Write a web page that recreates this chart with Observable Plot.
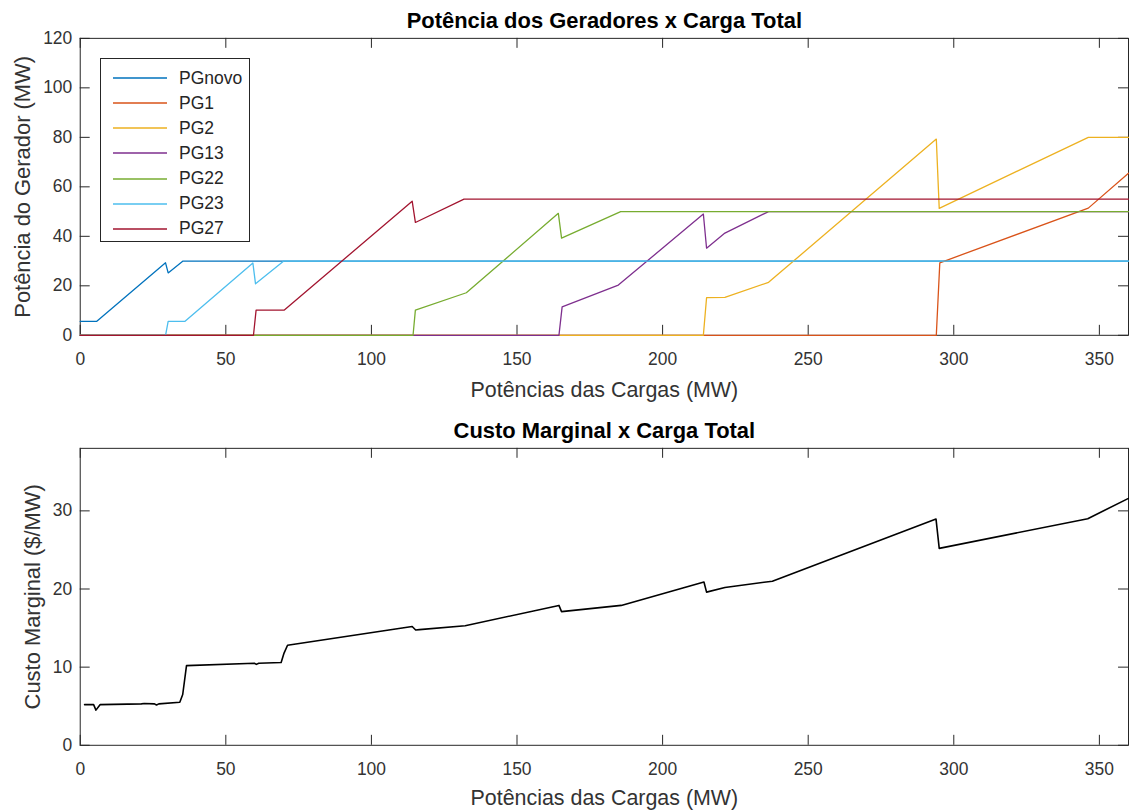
<!DOCTYPE html>
<html>
<head>
<meta charset="utf-8">
<script src="https://cdn.jsdelivr.net/npm/d3@7"></script>
<script src="https://cdn.jsdelivr.net/npm/@observablehq/plot@0.6"></script>
<style>
  html, body { margin: 0; padding: 0; background: #fff; overflow: hidden; }
  #wrap { position: relative; width: 1129px; height: 811px; overflow: hidden; font-family: "Liberation Sans", Arial, sans-serif; }
  #chartTop, #chartBottom { position: absolute; left: 0; }
  #chartTop { top: 0; }
  #chartBottom { top: 405px; }
  #legend { position: absolute; left: 100px; top: 58px; width: 150px; height: 184px; border: 1px solid #262626; background: #fff; box-sizing: border-box; }
  .row { position: absolute; left: 0; height: 24px; display: flex; align-items: center; font-size: 17.5px; color: #262626; }
  .row svg { margin-left: 12px; margin-right: 12px; }
</style>
</head>
<body>
<div id="wrap">
  <div id="chartTop"></div>
  <div id="chartBottom"></div>
  <div id="legend"></div>
</div>
<script>
// ---- Data ----
const seriesNames = ["PGnovo", "PG1", "PG2", "PG13", "PG22", "PG23", "PG27"];
const seriesColors = ["#0072BD", "#D95319", "#EDB120", "#7E2F8E", "#77AC30", "#4DBEEE", "#A2142F"];

// [load (MW), generator power (MW)]
const PGnovo = [[0,5.6],[5.6,5.6],[29.3,29.3],[30.2,25.2],[35.3,30],[360,30]];
const PG1 = [[0,0],[294,0],[295.2,29.3],[346.2,51.4],[360,65.5]];
const PG2 = [[0,0],[214,0],[215.1,15.2],[221.4,15.3],[236.4,21.4],[294,79.3],[295,51.3],[346.2,80],[360,80]];
const PG13 = [[0,0],[164.4,0],[165.5,11.5],[184.8,20.3],[214,49],[215.1,35.2],[221.4,41.3],[236.4,50],[360,50]];
const PG22 = [[0,0],[114.3,0],[115.1,10.2],[132.6,17.2],[164.2,49.3],[165.3,39.3],[185.6,50],[360,50]];
const PG23 = [[0,0],[29.3,0],[30.2,5.6],[35.9,5.6],[59.3,29.2],[60.2,20.8],[69.9,30],[360,30]];
const PG27 = [[0,0],[59.5,0],[60.4,10.2],[70.1,10.2],[114,54.2],[115.1,45.6],[131.8,55],[360,55]];

// [load (MW), marginal cost ($/MW)]
const custoMarginal = [[1.5,5.2],[4.6,5.2],[5.4,4.5],[6.8,5.2],[21,5.3],[22,5.35],[25.5,5.3],[26.2,5.15],[27,5.3],[34.2,5.5],[35.2,6.5],[36.5,10.2],[59.8,10.5],[60.5,10.35],[61.3,10.5],[69,10.6],[70,11.8],[71.2,12.8],[114,15.2],[115.2,14.75],[116.5,14.8],[132.2,15.3],[164.4,17.9],[165.3,17.1],[185.8,17.9],[214.2,20.9],[215.1,19.6],[221.4,20.2],[237.7,21.0],[293.9,28.95],[295,25.2],[346,29.0],[360,31.6]];

const xTicks = [0, 50, 100, 150, 200, 250, 300, 350];
const yTicksTop = [0, 20, 40, 60, 80, 100, 120];
const yTicksBottom = [0, 10, 20, 30];

const titleTop = "Potência dos Geradores x Carga Total";
const titleBottom = "Custo Marginal x Carga Total";
const xLabel = "Potências das Cargas (MW)";
const yLabelTop = "Potência do Gerador (MW)";
const yLabelBottom = "Custo Marginal ($/MW)";

// ---- Build tables ----
const seriesData = [PGnovo, PG1, PG2, PG13, PG22, PG23, PG27];
const genTable = seriesData.flatMap((arr, i) => arr.map(([x, y]) => ({x, y, series: seriesNames[i]})));
const costTable = custoMarginal.map(([x, y]) => ({x, y}));

const FONT = "Liberation Sans, Arial, sans-serif";
const AX = "#262626";
const W = 1133, ML = 80, MR = 1;
const FW = W - ML - MR;

function makeChart({yDomain, yTicks, height, marginTop, marginBottom, lineMarks, title, yLabel, yLabelDx, xLabelDy}) {
  const FH = height - marginTop - marginBottom;
  return Plot.plot({
    width: W, height, marginLeft: ML, marginRight: MR, marginTop, marginBottom,
    style: {fontFamily: FONT, background: "transparent", overflow: "visible"},
    x: {domain: [0, 360]},
    y: {domain: yDomain},
    color: {domain: seriesNames, range: seriesColors},
    marks: [
      Plot.frame({stroke: AX, strokeWidth: 1}),
      // inward ticks on all four sides
      Plot.ruleX(xTicks, {x: d => d, insetTop: FH - 10, stroke: AX}),
      Plot.ruleX(xTicks, {x: d => d, insetBottom: FH - 10, stroke: AX}),
      Plot.ruleY(yTicks, {y: d => d, insetRight: FW - 10, stroke: AX}),
      Plot.ruleY(yTicks, {y: d => d, insetLeft: FW - 10, stroke: AX}),
      Plot.axisX({ticks: xTicks, tickSize: 0, tickPadding: 17, fontSize: 17.5, fill: "#333", label: null, tickFormat: d => String(d)}),
      Plot.axisY({ticks: yTicks, tickSize: 0, tickPadding: 8, fontSize: 17.5, fill: "#333", label: null, tickFormat: d => String(d)}),
      ...lineMarks,
      Plot.text([title], {text: d => d, frameAnchor: "top", dy: -17, lineAnchor: "middle", fontSize: 22, fontWeight: "bold", fill: "#000"}),
      Plot.text([xLabel], {text: d => d, frameAnchor: "bottom", dy: xLabelDy, lineAnchor: "middle", fontSize: 21.5, fill: "#333"}),
      Plot.text([yLabel], {text: d => d, frameAnchor: "left", textAnchor: "middle", dx: yLabelDx, rotate: -90, lineAnchor: "middle", fontSize: 22, fill: "#333"})
    ]
  });
}

const chartTop = makeChart({
  yDomain: [0, 120], yTicks: yTicksTop, height: 405, marginTop: 38, marginBottom: 69,
  lineMarks: [Plot.line(genTable, {x: "x", y: "y", z: "series", stroke: "series", strokeWidth: 1.3})],
  title: titleTop, yLabel: yLabelTop, yLabelDx: -57, xLabelDy: 55
});
document.getElementById("chartTop").appendChild(chartTop);

const chartBottom = makeChart({
  yDomain: [0, 38], yTicks: yTicksBottom, height: 406, marginTop: 43, marginBottom: 65,
  lineMarks: [Plot.line(costTable, {x: "x", y: "y", stroke: "#000", strokeWidth: 1.6})],
  title: titleBottom, yLabel: yLabelBottom, yLabelDx: -47, xLabelDy: 53
});
document.getElementById("chartBottom").appendChild(chartBottom);

// ---- Legend ----
const legend = document.getElementById("legend");
seriesNames.forEach((name, i) => {
  const row = document.createElement("div");
  row.className = "row";
  row.style.top = (7 + i * 25.15) + "px";
  const ns = "http://www.w3.org/2000/svg";
  const sw = document.createElementNS(ns, "svg");
  sw.setAttribute("width", 54); sw.setAttribute("height", 4);
  const ln = document.createElementNS(ns, "line");
  ln.setAttribute("x1", 0); ln.setAttribute("x2", 54); ln.setAttribute("y1", 2); ln.setAttribute("y2", 2);
  ln.setAttribute("stroke", seriesColors[i]); ln.setAttribute("stroke-width", 1.5);
  sw.appendChild(ln);
  row.appendChild(sw);
  const t = document.createElement("span");
  t.textContent = name;
  row.appendChild(t);
  legend.appendChild(row);
});
</script>
</body>
</html>
